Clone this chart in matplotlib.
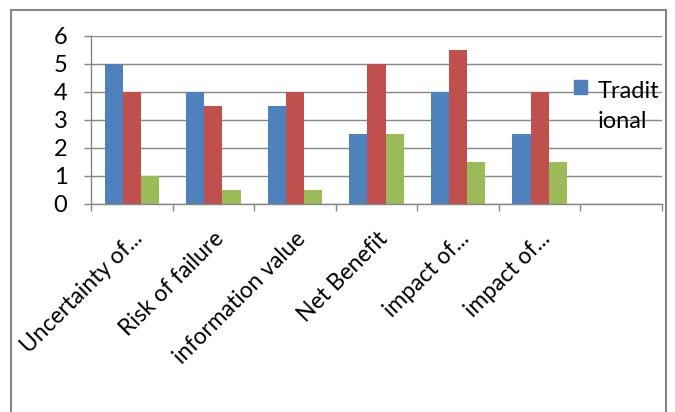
import matplotlib
matplotlib.use('Agg')
import matplotlib.pyplot as plt
import numpy as np
from matplotlib.patches import Rectangle

plt.rcParams['font.family'] = ['Lato', 'DejaVu Sans']

categories = ['Uncertainty of...', 'Risk of failure', 'information value',
              'Net Benefit', 'impact of...', 'impact of...', '']
series_names = ['Traditional', 'Series 2', 'Series 3']
traditional = [5, 4, 3.5, 2.5, 4, 2.5, 0]
series2 = [4, 3.5, 4, 5, 5.5, 4, 0]
series3 = [1, 0.5, 0.5, 2.5, 1.5, 1.5, 0]
colors = ['#4F81BD', '#C0504D', '#9BBB59']
yticks = [0, 1, 2, 3, 4, 5, 6]

grey = '#868686'
fig = plt.figure(figsize=(6.75, 4.12), dpi=100)
ax = fig.add_axes([91/675, 1 - 204/412, 571/675, 168/412])

x = np.arange(len(categories))
w = 1 / 4.5
for i, vals in enumerate([traditional, series2, series3]):
    ax.bar(x + (i - 1) * w, vals, w, color=colors[i], label=series_names[i], zorder=2)

ax.set_xlim(-0.5, len(categories) - 0.5)
ax.set_ylim(0, 6)
ax.set_yticks(yticks)
ax.grid(axis='y', color=grey, lw=1, zorder=0)
for s in ['top', 'right']:
    ax.spines[s].set_visible(False)
for s in ['left', 'bottom']:
    ax.spines[s].set_color(grey)
    ax.spines[s].set_linewidth(1)
ax.tick_params(axis='y', length=5, color=grey, width=1, labelsize=17, pad=12)

# category boundaries carry the tick marks, labels sit at centres
ax.set_xticks(np.arange(len(categories) + 1) - 0.5, minor=True)
ax.tick_params(axis='x', which='minor', length=5, color=grey, width=1)
ax.set_xticks(x)
ax.set_xticklabels(categories, rotation=45, ha='right', va='top',
                   rotation_mode='anchor', fontsize=16.5)
ax.tick_params(axis='x', which='major', length=0, pad=17)

# legend (only the first entry is visible in the original, wrapped)
ax.add_patch(Rectangle((0.846, 0.655), 0.0228, 0.083, transform=ax.transAxes,
                       color=colors[0], clip_on=False, zorder=3))
ax.text(0.888, 0.631, 'Tradit', transform=ax.transAxes, fontsize=17,
        va='baseline', ha='left', zorder=3)
ax.text(0.888, 0.452, 'ional', transform=ax.transAxes, fontsize=17,
        va='baseline', ha='left', zorder=3)

fig.add_artist(Rectangle((11/675, -0.1), 655/675, 1.1 - 10/412, transform=fig.transFigure,
                         fill=False, edgecolor=grey, lw=1.5))

fig.savefig('out.png', dpi=100)
